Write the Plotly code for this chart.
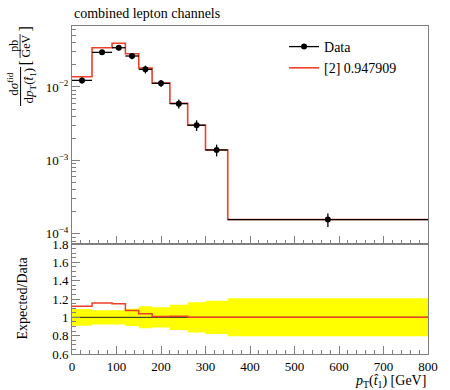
import plotly.graph_objects as go

# ---------------- data ----------------
bin_edges = [0, 45, 90, 120, 150, 180, 220, 260, 300, 350, 800]
data_vals = [0.0123, 0.0296, 0.0342, 0.0264, 0.0174, 0.0112, 0.00593, 0.00302, 0.00139, 0.000157]
data_rel_err = [0.092, 0.078, 0.078, 0.095, 0.12, 0.11, 0.138, 0.165, 0.182, 0.207]
pred_vals = [0.0138, 0.0342, 0.0393, 0.0284, 0.0181, 0.0113, 0.0060, 0.00302, 0.00139, 0.000157]
legend_data = "Data"
legend_pred = "[2] 0.947909"
x_ticks = [0, 100, 200, 300, 400, 500, 600, 700, 800]
ratio_ticks = [0.6, 0.8, 1.0, 1.2, 1.4, 1.6, 1.8]
ratio_ticktext = ["0.6", "0.8", "1", "1.2", "1.4", "1.6", "1.8"]
log_ticks = [1e-4, 1e-3, 1e-2]
log_ticktext = ["10<sup>−4</sup>", "10<sup>−3</sup>", "10<sup>−2</sup>"]

# ---------------- derived ----------------
centers = [(a + b) / 2 for a, b in zip(bin_edges[:-1], bin_edges[1:])]
halfw = [(b - a) / 2 for a, b in zip(bin_edges[:-1], bin_edges[1:])]
err_abs = [v * e for v, e in zip(data_vals, data_rel_err)]
ratio = [p / d for p, d in zip(pred_vals, data_vals)]
band_up = [1 + e for e in data_rel_err]
band_dn = [1 - e for e in data_rel_err]
step = lambda v: v + [v[-1]]

FONT = "Liberation Serif"
RED = "#EE4028"
AX = "#808080"

# geometry (window pixels); body margin removed via post_script
W, H = 450, 390
X0, X1 = 71.5, 435      # plot area left/right
Y0, Y1 = 26, 354        # plot area top/bottom
L, R = X0, W - X1
T, B = Y0, H - Y1
PW, PH = X1 - X0, Y1 - Y0
split = (354 - 244) / PH


def px(x):
    return (x - X0) / PW


def py(y):
    return (Y1 - y) / PH


fig = go.Figure()

# ratio panel: band
fig.add_trace(go.Scatter(x=bin_edges, y=step(band_dn), mode="lines", line=dict(width=0, shape="hv"),
                         xaxis="x", yaxis="y", showlegend=False, hoverinfo="skip"))
fig.add_trace(go.Scatter(x=bin_edges, y=step(band_up), mode="lines", line=dict(width=0, shape="hv"),
                         fill="tonexty", fillcolor="#FFFF00", xaxis="x", yaxis="y", showlegend=False,
                         hoverinfo="skip"))
fig.add_trace(go.Scatter(x=[bin_edges[0], bin_edges[-1]], y=[1, 1], mode="lines",
                         line=dict(color="#222222", width=1), xaxis="x", yaxis="y", showlegend=False))
fig.add_trace(go.Scatter(x=bin_edges, y=step(ratio), mode="lines", line=dict(color=RED, width=1.5, shape="hv"),
                         xaxis="x", yaxis="y", showlegend=False))

# main panel
fig.add_trace(go.Scatter(x=bin_edges, y=step(pred_vals), mode="lines",
                         line=dict(color=RED, width=1.6, shape="hv"),
                         xaxis="x2", yaxis="y2", showlegend=False))
fig.add_trace(go.Scatter(x=centers, y=data_vals, mode="markers",
                         marker=dict(color="black", size=6),
                         error_x=dict(type="data", array=halfw, width=0, color="black", thickness=1.3),
                         error_y=dict(type="data", array=err_abs, width=0, color="black", thickness=1.3),
                         xaxis="x2", yaxis="y2", showlegend=False))
# legend entries
fig.add_trace(go.Scatter(x=[None], y=[None], mode="lines+markers", name=legend_data,
                         line=dict(color="black", width=1.3), marker=dict(color="black", size=6),
                         xaxis="x2", yaxis="y2"))
fig.add_trace(go.Scatter(x=[None], y=[None], mode="lines", name=legend_pred,
                         line=dict(color=RED, width=1.6), xaxis="x2", yaxis="y2"))

tickfont = dict(family=FONT, size=13, color="black")

fig.update_layout(
    width=W, height=H,
    margin=dict(l=L, r=R, t=T, b=B, pad=0),
    plot_bgcolor="white", paper_bgcolor="white",
    font=dict(family=FONT, size=13, color="black"),
    showlegend=True,
    legend=dict(x=px(288), y=py(31), xanchor="left", yanchor="top", bgcolor="rgba(0,0,0,0)",
                font=dict(family=FONT, size=14), tracegroupgap=0, itemwidth=30, traceorder="normal"),
    xaxis=dict(domain=[0, 1], range=[0, 800], anchor="y", tickvals=x_ticks, ticks="inside", ticklen=8,
               tickcolor=AX, showline=True, linecolor=AX, mirror=True, showgrid=False, zeroline=False,
               tickfont=tickfont, minor=dict(dtick=20, ticks="inside", ticklen=4, tickcolor=AX)),
    yaxis=dict(domain=[0, split], range=[0.6, 1.8], anchor="x", tickvals=ratio_ticks, ticktext=ratio_ticktext,
               ticks="inside", ticklen=8, tickcolor=AX, showline=True, linecolor=AX, mirror=True,
               showgrid=False, zeroline=False, tickfont=tickfont,
               minor=dict(dtick=0.05, ticks="inside", ticklen=4, tickcolor=AX)),
    xaxis2=dict(domain=[0, 1], range=[0, 800], anchor="y2", matches="x", tickvals=x_ticks, ticks="inside",
                ticklen=8, tickcolor=AX, showticklabels=False, showline=True, linecolor=AX, mirror=True,
                showgrid=False, zeroline=False,
                minor=dict(dtick=20, ticks="inside", ticklen=4, tickcolor=AX)),
    yaxis2=dict(domain=[split, 1], type="log", range=[-4.137, -1.170], anchor="x2", tickvals=log_ticks,
                ticktext=log_ticktext, ticks="inside", ticklen=8, tickcolor=AX, showline=True, linecolor=AX,
                mirror=True, showgrid=False, zeroline=False, tickfont=tickfont,
                minor=dict(tickvals=[m * 10 ** e for e in (-5, -4, -3, -2) for m in range(2, 10)],
                           ticks="inside", ticklen=4, tickcolor=AX)),
)

ann = []


def add_text(text, x, y, size=14, angle=0, xanchor="center", yanchor="middle"):
    ann.append(dict(text=text, x=px(x), y=py(y), xref="paper", yref="paper", showarrow=False,
                    textangle=angle, xanchor=xanchor, yanchor=yanchor,
                    font=dict(family=FONT, size=size, color="black")))


add_text("combined lepton channels", 72, 13, size=14, xanchor="left")
add_text("Expected/Data", 20, 298, size=14, angle=-90)
add_text("<i>p</i><sub>T</sub>(<i>t̂</i><sub>1</sub>) [GeV]", 435, 381, size=14, xanchor="right")
# y-axis fraction label
add_text("d<i>σ</i><sup>fid</sup>", 11, 84, size=13, angle=-90)
add_text("d<i>p</i><sub>T</sub>(<i>t̂</i><sub>1</sub>)", 28, 86, size=13, angle=-90)
add_text("[", 24, 63, size=16, angle=-90)
add_text("pb", 12, 46, size=12, angle=-90)
add_text("GeV", 25, 46, size=12, angle=-90)
add_text("]", 24, 29, size=16, angle=-90)
fig.update_layout(annotations=ann)

fig.update_layout(shapes=[
    dict(type="line", xref="paper", yref="paper", x0=px(19), x1=px(19), y0=py(67), y1=py(106),
         line=dict(color="black", width=1)),
    dict(type="line", xref="paper", yref="paper", x0=px(18.5), x1=px(18.5), y0=py(34), y1=py(58),
         line=dict(color="black", width=0.8)),
])

fig.write_html("out.html", config={"displayModeBar": False},
               post_script="document.body.style.margin='0';")
